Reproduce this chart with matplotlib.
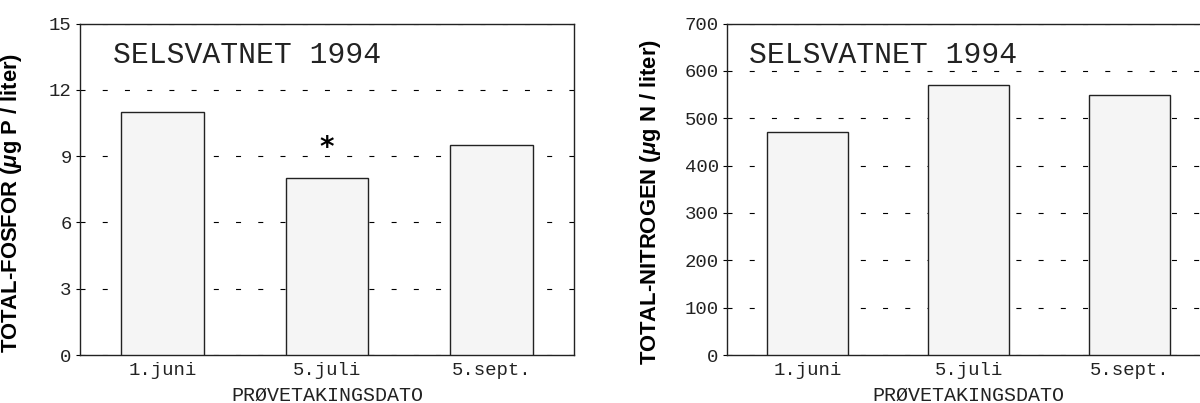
import matplotlib
matplotlib.use("Agg")
import matplotlib.pyplot as plt

dates = ["1.juni", "5.juli", "5.sept."]
fosfor = [11.0, 8.0, 9.5]
nitrogen = [470, 570, 548]
fosfor_ticks = [0, 3, 6, 9, 12, 15]
nitrogen_ticks = [0, 100, 200, 300, 400, 500, 600, 700]
title = "SELSVATNET 1994"
xlabel = "PRØVETAKINGSDATO"
ylabel_p = r"TOTAL-FOSFOR ($\mu$g P / liter)"
ylabel_n = r"TOTAL-NITROGEN ($\mu$g N / liter)"

plt.rcParams['mathtext.fontset'] = 'custom'
plt.rcParams['mathtext.it'] = 'Liberation Sans:italic:bold'
plt.rcParams['mathtext.rm'] = 'Liberation Sans:bold'

W, H = 1200, 403
fig = plt.figure(figsize=(W / 100, H / 100), dpi=100)

mono = 'Liberation Mono'
sans = 'Liberation Sans'


def panel(rect, vals, ticks, ylab, ylab_x, title_x):
    ax = fig.add_axes(rect)
    x = list(range(len(dates)))
    ax.bar(x, vals, width=0.5, color='#f5f5f5', edgecolor='#222222', linewidth=1.0, zorder=3)
    ax.set_xlim(-0.5, 2.5)
    ax.set_ylim(ticks[0], ticks[-1])
    ax.set_yticks(ticks)
    ax.set_yticklabels([str(t) for t in ticks], fontfamily=mono, fontsize=13.7, color='#222222')
    ax.set_xticks(x)
    ax.set_xticklabels(dates, fontfamily=mono, fontsize=13.7, color='#222222')
    ax.tick_params(axis='x', length=0, pad=5)
    ax.tick_params(axis='y', length=3, width=0.8, direction='out', pad=3)
    ax.yaxis.grid(True, color='black', linewidth=0.8, linestyle=(0, (4.5, 15.5)), zorder=1)
    ax.set_axisbelow(True)
    for s in ax.spines.values():
        s.set_linewidth(1.0)
        s.set_color('#222222')
    ax.set_xlabel(xlabel, fontfamily=mono, fontsize=14.4, labelpad=5, color='#222222')
    ax.set_ylabel(ylab, fontfamily=sans, fontsize=15.8, fontweight='bold')
    ax.yaxis.set_label_coords(ylab_x, 0.46)
    ax.text(title_x, 0.88, title, transform=ax.transAxes, fontfamily=mono,
            fontsize=21.4, ha='left', va='baseline', color='#222222')
    return ax


ax1 = panel([80 / W, 1 - 355 / H, 494 / W, 331.5 / H], fosfor, fosfor_ticks,
            ylabel_p, -0.113, 0.067)
ax1.text(1, 9.35, '*', ha='center', va='center', fontsize=20, fontweight='bold',
         fontfamily='DejaVu Sans')

ax2 = panel([727 / W, 1 - 355 / H, 483 / W, 331.5 / H], nitrogen, nitrogen_ticks,
            ylabel_n, -0.133, 0.045)

fig.savefig('out.png', dpi=100)
